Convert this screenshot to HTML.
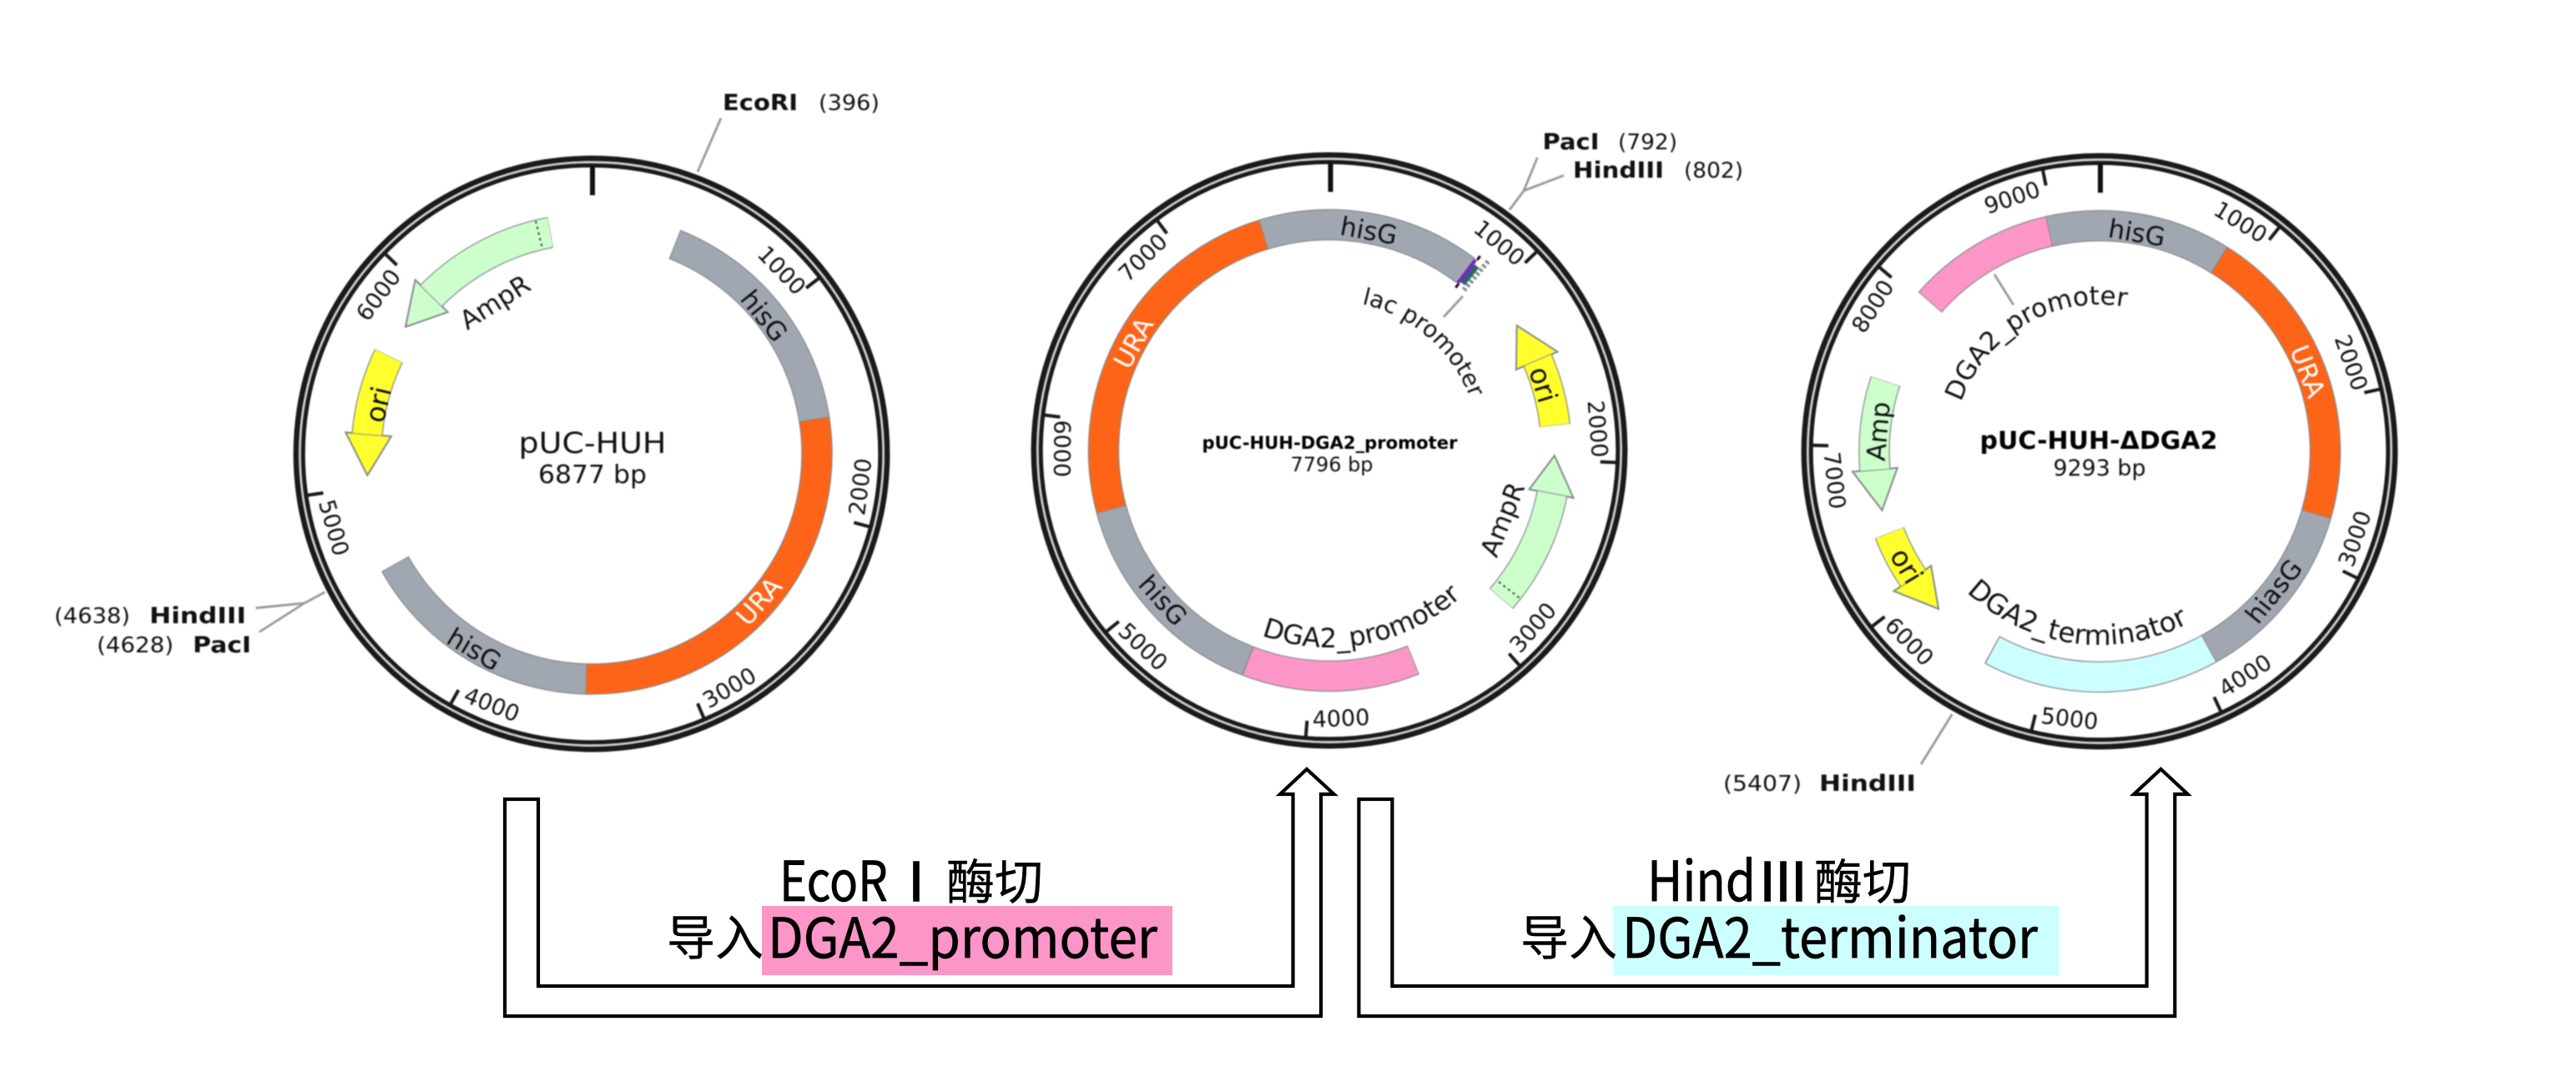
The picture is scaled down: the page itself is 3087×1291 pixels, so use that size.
<!DOCTYPE html>
<html lang="zh">
<head>
<meta charset="utf-8">
<title>pUC-HUH plasmid construction</title>
<style>
html,body{margin:0;padding:0;background:#fff;width:3087px;height:1291px;overflow:hidden}
svg{display:block}
.map{filter:blur(.7px)}
text{font-family:"DejaVu Sans","Noto Sans CJK SC",sans-serif;fill:#111}
.tk{font-size:27px;text-anchor:middle}
.f{font-size:31px;text-anchor:middle}
.fo{font-size:33px;text-anchor:middle}
.map text.w{fill:#fff}
.b{font-weight:bold;font-size:27px}
.n{font-size:26px}
.o1{fill:none;stroke:#1a1a1a;stroke-width:6.5}
.o2{fill:none;stroke:#d0d0cc;stroke-width:2.5}
.o3{fill:none;stroke:#1a1a1a;stroke-width:5}
.ft{fill:none;stroke-width:35}
.ol{fill:none;stroke:#85888c;stroke-width:37.5}
.tick{stroke:#1a1a1a;stroke-width:4}
.z{stroke:#111;stroke-width:6}
.ln{stroke:#999;stroke-width:2.8;fill:none}
.hd{stroke:#85888c;stroke-width:2}
.dot{stroke:#444;stroke-width:2;stroke-dasharray:3 4}
text.big{font-family:"Noto Sans CJK SC","Liberation Sans",sans-serif;font-size:66px;fill:#000;stroke:#000;stroke-width:.7}
text.cjk{font-family:"Noto Sans CJK SC",sans-serif;font-size:58px;fill:#000;stroke:#000;stroke-width:.4}
text.rom{font-family:"Noto Sans CJK SC",sans-serif;font-size:64px;fill:#000;stroke:#000;stroke-width:1.5;text-anchor:middle}
.ar{fill:#fff;stroke:#000;stroke-width:4.2}
</style>
</head>
<body>
<svg width="3087" height="1291" viewBox="0 0 3087 1291" xmlns="http://www.w3.org/2000/svg">
<defs>
<path id="t180" d="M-180 0A180 180 0 0 1 180 0"/>
<path id="b236" d="M-236 0A236 236 0 0 0 236 0"/>
<path id="t176" d="M-176 0A176 176 0 0 1 176 0"/>
<path id="b232" d="M-232 0A232 232 0 0 0 232 0"/>
</defs>
<rect width="3087" height="1291" fill="#fff"/>

<!-- Map 1 -->
<g class="map">
<g transform="translate(709,544)">
<circle r="354.2" class="o1"/><circle r="349.6" class="o2"/><circle r="345.8" class="o3"/>
<line x1="1" y1="-345" x2="1" y2="-310" class="z"/>
<g class="tick">
<line y1="-344" y2="-325" transform="rotate(52.3)"/>
<line y1="-344" y2="-325" transform="rotate(104.7)"/>
<line y1="-344" y2="-325" transform="rotate(157)"/>
<line y1="-344" y2="-325" transform="rotate(209.4)"/>
<line y1="-344" y2="-325" transform="rotate(261.7)"/>
<line y1="-344" y2="-325" transform="rotate(314.1)"/>
</g>
<text class="tk" dy=".36em" transform="rotate(46) translate(0,-317)">1000</text>
<text class="tk" dy=".36em" transform="rotate(97) translate(0,-324) rotate(180)">2000</text>
<text class="tk" dy=".36em" transform="rotate(149.5) translate(0,-325) rotate(180)">3000</text>
<text class="tk" dy=".36em" transform="rotate(201.7) translate(0,-323) rotate(180)">4000</text>
<text class="tk" dy=".36em" transform="rotate(254) translate(0,-321) rotate(180)">5000</text>
<text class="tk" dy=".36em" transform="rotate(306.7) translate(0,-319)">6000</text>

<circle r="270" class="ol" pathLength="360" stroke-dasharray="60 1000" transform="rotate(-68.4)"/>
<circle r="270" class="ft" stroke="#a1a7b0" pathLength="360" stroke-dasharray="59.5 1000" transform="rotate(-68.2)"/>
<circle r="270" class="ol" pathLength="360" stroke-dasharray="100.5 1000" transform="rotate(-8.9)"/>
<circle r="270" class="ft" stroke="#fd6418" pathLength="360" stroke-dasharray="100.2 1000" transform="rotate(-8.7)"/>
<circle r="270" class="ol" pathLength="360" stroke-dasharray="59.5 1000" transform="rotate(91.3)"/>
<circle r="270" class="ft" stroke="#a1a7b0" pathLength="360" stroke-dasharray="59.1 1000" transform="rotate(91.5)"/>

<circle r="270" class="ol" pathLength="360" stroke-dasharray="34.9 1000" transform="rotate(224.6)"/>
<polygon class="hd" fill="#ccffcc" points="0,-297 0,-242 -48.3,-265.7" transform="rotate(314.6)"/>
<circle r="270" class="ft" stroke="#ccffcc" pathLength="360" stroke-dasharray="34.8 1000" transform="rotate(224.6)"/>
<line class="dot" y1="-287" y2="-253" transform="rotate(346.5)"/>

<circle r="270" class="ol" pathLength="360" stroke-dasharray="20.8 1000" transform="rotate(185)"/>
<polygon class="hd" fill="#ffff2e" points="0,-296 0,-241 -49.2,-265.5" transform="rotate(275)"/>
<circle r="270" class="ft" stroke="#ffff2e" pathLength="360" stroke-dasharray="20.7 1000" transform="rotate(185)"/>

<text class="f" dy=".36em" transform="rotate(51.3) translate(0,-265)">hisG</text>
<text class="f w" dy=".36em" transform="rotate(131.4) translate(0,-267) rotate(180)">URA</text>
<text class="f" dy=".36em" transform="rotate(211) translate(0,-273) rotate(180)">hisG</text>
<text class="f" dy=".36em" transform="rotate(327.5) translate(0,-216)">AmpR</text>
<text class="fo" dy=".36em" transform="rotate(283) translate(0,-263)">ori</text>
</g>
<text x="710" y="543" text-anchor="middle" font-size="35" textLength="177" lengthAdjust="spacingAndGlyphs">pUC-HUH</text>
<text x="710" y="579" text-anchor="middle" font-size="30" textLength="130" lengthAdjust="spacingAndGlyphs">6877 bp</text>
<path class="ln" d="M864 141.5L836 206"/>
<path class="ln" d="M306.6 728.8L364.8 723L389.3 709.8M310.8 757.5L364.8 723"/>
<text class="b" x="866" y="132" textLength="90" lengthAdjust="spacingAndGlyphs">EcoRI</text>
<text class="n" x="981" y="132" textLength="73" lengthAdjust="spacingAndGlyphs">(396)</text>
<text class="n" x="65" y="747" textLength="91" lengthAdjust="spacingAndGlyphs">(4638)</text>
<text class="b" x="179" y="747" textLength="116" lengthAdjust="spacingAndGlyphs">HindIII</text>
<text class="n" x="116" y="782" textLength="92" lengthAdjust="spacingAndGlyphs">(4628)</text>
<text class="b" x="231" y="782" textLength="70" lengthAdjust="spacingAndGlyphs">PacI</text>

<!-- Map 2 -->
<g transform="translate(1593,540)">
<circle r="354.2" class="o1"/><circle r="349.6" class="o2"/><circle r="345.8" class="o3"/>
<line x1="1.5" y1="-345" x2="1.5" y2="-310" class="z"/>
<g class="tick">
<line y1="-344" y2="-325" transform="rotate(46.2)"/>
<line y1="-344" y2="-325" transform="rotate(92.4)"/>
<line y1="-344" y2="-325" transform="rotate(138.5)"/>
<line y1="-344" y2="-325" transform="rotate(184.7)"/>
<line y1="-344" y2="-325" transform="rotate(230.9)"/>
<line y1="-344" y2="-325" transform="rotate(277.1)"/>
<line y1="-344" y2="-325" transform="rotate(323.2)"/>
</g>
<text class="tk" dy=".36em" transform="rotate(39.3) translate(0,-322)">1000</text>
<text class="tk" dy=".36em" transform="rotate(85.4) translate(0,-323)">2000</text>
<text class="tk" dy=".36em" transform="rotate(131) translate(0,-323) rotate(180)">3000</text>
<text class="tk" dy=".36em" transform="rotate(177.5) translate(0,-321) rotate(180)">4000</text>
<text class="tk" dy=".36em" transform="rotate(223.5) translate(0,-324) rotate(180)">5000</text>
<text class="tk" dy=".36em" transform="rotate(270.4) translate(0,-320) rotate(180)">6000</text>
<text class="tk" dy=".36em" transform="rotate(316) translate(0,-322)">7000</text>

<circle r="270.5" class="ol" pathLength="360" stroke-dasharray="54.4 1000" transform="rotate(252.8)"/>
<circle r="270.5" class="ft" stroke="#a1a7b0" pathLength="360" stroke-dasharray="54 1000" transform="rotate(253)"/>
<circle r="270.5" class="ol" pathLength="360" stroke-dasharray="88.6 1000" transform="rotate(164.6)"/>
<circle r="270.5" class="ft" stroke="#fd6418" pathLength="360" stroke-dasharray="88.2 1000" transform="rotate(164.8)"/>
<circle r="270.5" class="ol" pathLength="360" stroke-dasharray="54.2 1000" transform="rotate(110.8)"/>
<circle r="270.5" class="ft" stroke="#a1a7b0" pathLength="360" stroke-dasharray="53.8 1000" transform="rotate(111)"/>
<circle r="270.5" class="ol" pathLength="360" stroke-dasharray="43.2 1000" transform="rotate(68.1)"/>
<circle r="270.5" class="ft" stroke="#fd96c8" pathLength="360" stroke-dasharray="42.7 1000" transform="rotate(68.3)"/>

<!-- MCS marks -->
<line stroke="#2a6470" stroke-width="7" y1="-283" y2="-256" transform="rotate(38.6)"/>
<line stroke="#7a24c8" stroke-width="4" y1="-288" y2="-253" transform="rotate(37.5)"/>
<line stroke="#111" stroke-width="3" y1="-295" y2="-289" transform="rotate(37.8)"/>
<line stroke="#111" stroke-width="3" y1="-253" y2="-247" transform="rotate(37.8)"/>
<line stroke="#888" stroke-width="6" stroke-dasharray="3 3" y1="-296" y2="-250" transform="rotate(40)"/>
<path class="ln" d="M160 -185L137 -160"/>

<circle r="272" class="ol" pathLength="360" stroke-dasharray="29.8 1000" transform="rotate(11)"/>
<polygon class="hd" fill="#ccffcc" points="0,-298 0,-244 -45.5,-266.1" transform="rotate(101)"/>
<circle r="272" class="ft" stroke="#ccffcc" pathLength="360" stroke-dasharray="29.7 1000" transform="rotate(11)"/>
<line class="dot" y1="-288" y2="-255" transform="rotate(127.8)"/>

<circle r="272" class="ol" pathLength="360" stroke-dasharray="17.1 1000" transform="rotate(-23.4)"/>
<polygon class="hd" fill="#ffff2e" points="0,-298 0,-244 -48.3,-265.7" transform="rotate(66.6)"/>
<circle r="272" class="ft" stroke="#ffff2e" pathLength="360" stroke-dasharray="17 1000" transform="rotate(-23.4)"/>

<text class="f" dy=".36em" transform="rotate(10.2) translate(0,-268)">hisG</text>
<text class="f w" dy=".36em" transform="rotate(298.8) translate(0,-268)">URA</text>
<text class="f" dy=".36em" transform="rotate(228) translate(0,-268) rotate(180)">hisG</text>
<text class="f" dy=".36em" transform="rotate(111.7) translate(0,-223) rotate(180)">AmpR</text>
<text class="fo" dy=".36em" transform="rotate(72.9) translate(0,-268.6)">ori</text>
<g transform="rotate(41)"><text font-size="28" text-anchor="middle"><textPath href="#t180" startOffset="50%">lac promoter</textPath></text></g>
<g transform="rotate(-11)"><text font-size="32" text-anchor="middle"><textPath href="#b236" startOffset="50%">DGA2_promoter</textPath></text></g>
</g>
<text x="1593.5" y="538" text-anchor="middle" font-size="21" font-weight="bold" style="fill:#000" textLength="306" lengthAdjust="spacingAndGlyphs">pUC-HUH-DGA2_promoter</text>
<text x="1596" y="565" text-anchor="middle" font-size="24" textLength="99" lengthAdjust="spacingAndGlyphs">7796 bp</text>
<path class="ln" d="M1842.4 188.9L1826 228.7L1809 251.6M1874 210.3L1826 228.7"/>
<text class="b" x="1848.5" y="179" textLength="68" lengthAdjust="spacingAndGlyphs">PacI</text>
<text class="n" x="1939" y="179" textLength="71" lengthAdjust="spacingAndGlyphs">(792)</text>
<text class="b" x="1885" y="213" textLength="109" lengthAdjust="spacingAndGlyphs">HindIII</text>
<text class="n" x="2018" y="213" textLength="71" lengthAdjust="spacingAndGlyphs">(802)</text>

<!-- Map 3 -->
<g transform="translate(2516,541)">
<circle r="354.2" class="o1"/><circle r="349.6" class="o2"/><circle r="345.8" class="o3"/>
<line x1="1" y1="-345" x2="1" y2="-310" class="z"/>
<g class="tick">
<line y1="-344" y2="-325" transform="rotate(38.74)"/>
<line y1="-344" y2="-325" transform="rotate(77.5)"/>
<line y1="-344" y2="-325" transform="rotate(116.2)"/>
<line y1="-344" y2="-325" transform="rotate(155)"/>
<line y1="-344" y2="-325" transform="rotate(193.7)"/>
<line y1="-344" y2="-325" transform="rotate(232.4)"/>
<line y1="-344" y2="-325" transform="rotate(271.2)"/>
<line y1="-344" y2="-325" transform="rotate(309.9)"/>
<line y1="-344" y2="-325" transform="rotate(348.6)"/>
</g>
<text class="tk" dy=".36em" transform="rotate(31.6) translate(0,-323)">1000</text>
<text class="tk" dy=".36em" transform="rotate(70.6) translate(0,-320)">2000</text>
<text class="tk" dy=".36em" transform="rotate(108.9) translate(0,-323) rotate(180)">3000</text>
<text class="tk" dy=".36em" transform="rotate(147) translate(0,-320) rotate(180)">4000</text>
<text class="tk" dy=".36em" transform="rotate(186.4) translate(0,-322) rotate(180)">5000</text>
<text class="tk" dy=".36em" transform="rotate(225) translate(0,-322) rotate(180)">6000</text>
<text class="tk" dy=".36em" transform="rotate(263.7) translate(0,-319) rotate(180)">7000</text>
<text class="tk" dy=".36em" transform="rotate(302.6) translate(0,-323)">8000</text>
<text class="tk" dy=".36em" transform="rotate(341) translate(0,-322)">9000</text>

<circle r="270.5" class="ol" pathLength="360" stroke-dasharray="36 1000" transform="rotate(221.3)"/>
<circle r="270.5" class="ft" stroke="#fd96c8" pathLength="360" stroke-dasharray="35.7 1000" transform="rotate(221.5)"/>
<circle r="270.5" class="ol" pathLength="360" stroke-dasharray="45.2 1000" transform="rotate(257)"/>
<circle r="270.5" class="ft" stroke="#a1a7b0" pathLength="360" stroke-dasharray="44.9 1000" transform="rotate(257.2)"/>
<circle r="270.5" class="ol" pathLength="360" stroke-dasharray="74.5 1000" transform="rotate(-58.1)"/>
<circle r="270.5" class="ft" stroke="#fd6418" pathLength="360" stroke-dasharray="74.2 1000" transform="rotate(-57.9)"/>
<circle r="270.5" class="ol" pathLength="360" stroke-dasharray="45 1000" transform="rotate(16.1)"/>
<circle r="270.5" class="ft" stroke="#a1a7b0" pathLength="360" stroke-dasharray="44.7 1000" transform="rotate(16.3)"/>
<circle r="270.5" class="ol" pathLength="360" stroke-dasharray="57.6 1000" transform="rotate(60.9)"/>
<circle r="270.5" class="ft" stroke="#ccffff" pathLength="360" stroke-dasharray="57.1 1000" transform="rotate(61.1)"/>

<circle r="270" class="ol" pathLength="360" stroke-dasharray="22.9 1000" transform="rotate(175.3)"/>
<polygon class="hd" fill="#ccffcc" points="0,-297 0,-243 -49.2,-265.5" transform="rotate(265.3)"/>
<circle r="270" class="ft" stroke="#ccffcc" pathLength="360" stroke-dasharray="22.8 1000" transform="rotate(175.3)"/>

<circle r="270" class="ol" pathLength="360" stroke-dasharray="13 1000" transform="rotate(145.8)"/>
<polygon class="hd" fill="#ffff2e" points="0,-298 0,-244 -47.8,-265.7" transform="rotate(235.8)"/>
<circle r="270" class="ft" stroke="#ffff2e" pathLength="360" stroke-dasharray="12.9 1000" transform="rotate(145.8)"/>

<text class="f" dy=".36em" transform="rotate(9.7) translate(0,-266)">hisG</text>
<text class="f w" dy=".36em" transform="rotate(69) translate(0,-267.6)">URA</text>
<text class="f" dy=".36em" transform="rotate(128.8) translate(0,-267.6) rotate(180)">hiasG</text>
<text class="f" dy=".36em" transform="rotate(275.2) translate(0,-266.5)">Amp</text>
<text class="fo" dy=".36em" transform="rotate(239.3) translate(0,-268.6) rotate(180)">ori</text>
<g transform="rotate(330)"><text font-size="31" text-anchor="middle"><textPath href="#t176" startOffset="50%">DGA2_promoter</textPath></text></g>
<g transform="rotate(8)"><text font-size="33" text-anchor="middle"><textPath href="#b232" startOffset="50%">DGA2_terminator</textPath></text></g>
</g>
<path class="ln" d="M2390 328.9L2412.9 365.5M2339.4 856L2302 916.2"/>
<text x="2515" y="538" text-anchor="middle" font-size="29" font-weight="bold" style="fill:#000" textLength="285" lengthAdjust="spacingAndGlyphs">pUC-HUH-ΔDGA2</text>
<text x="2516" y="570" text-anchor="middle" font-size="27" textLength="111" lengthAdjust="spacingAndGlyphs">9293 bp</text>
<text class="n" x="2065" y="948" textLength="94" lengthAdjust="spacingAndGlyphs">(5407)</text>
<text class="b" x="2180" y="948" textLength="116" lengthAdjust="spacingAndGlyphs">HindIII</text>
</g>

<!-- Arrows -->
<path class="ar" d="M605 958H645V1182H1549.5V952H1534L1566 922L1598.6 952H1583V1218H605Z"/>
<path class="ar" d="M1628.4 958H1668.4V1182H2572.6V952H2557.2L2589.5 922L2621.7 952H2606.3V1218H1628.4Z"/>

<rect x="913" y="1086" width="492" height="83" fill="#fd96c8"/>
<rect x="1933" y="1086" width="534.5" height="83" fill="#ccffff"/>

<text class="big" x="934" y="1080" textLength="130" lengthAdjust="spacingAndGlyphs">EcoR</text>
<text class="rom" x="1098" y="1080">Ⅰ</text>
<text class="cjk" x="1134" y="1078">酶切</text>
<text class="cjk" x="799" y="1145">导入</text>
<text class="big" x="920" y="1148" textLength="467" lengthAdjust="spacingAndGlyphs">DGA2_promoter</text>

<text class="big" x="1974" y="1080" textLength="130" lengthAdjust="spacingAndGlyphs">Hind</text>
<text class="rom" x="2137" y="1080">Ⅲ</text>
<text class="cjk" x="2174" y="1078">酶切</text>
<text class="cjk" x="1822" y="1145">导入</text>
<text class="big" x="1944" y="1148" textLength="498" lengthAdjust="spacingAndGlyphs">DGA2_terminator</text>
</svg>
</body>
</html>
